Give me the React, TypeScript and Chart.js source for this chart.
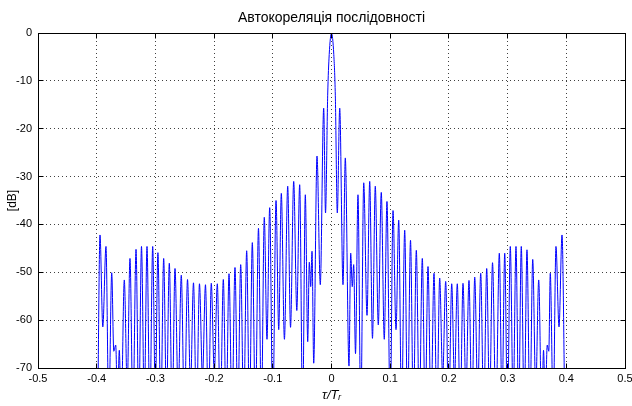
import React, { useEffect, useRef } from "react";
import { Chart, registerables } from "chart.js";

Chart.register(...registerables);

const TITLE = "Автокореляція послідовності";
const X_LABEL = "τ/Tᵣ";
const Y_LABEL = "[dB]";

const xTickValues = [-0.5, -0.4, -0.3, -0.2, -0.1, 0, 0.1, 0.2, 0.3, 0.4, 0.5];
const xTickLabels = ["-0.5", "-0.4", "-0.3", "-0.2", "-0.1", "0", "0.1", "0.2", "0.3", "0.4", "0.5"];
const yTickValues = [-70, -60, -50, -40, -30, -20, -10, 0];
const yTickLabels = ["-70", "-60", "-50", "-40", "-30", "-20", "-10", "0"];

// Delay τ/Tr of each lobe peak / null (left to right)
const lagTau = [
  -0.3983, -0.3944, -0.3896, -0.3842, -0.3794, -0.3744, -0.3709, -0.3676, -0.3646, -0.3615,
  -0.3583, -0.3530, -0.3480, -0.3433, -0.3382, -0.3330, -0.3283, -0.3237, -0.3189, -0.3143,
  -0.3095, -0.3046, -0.3002, -0.2957, -0.2908, -0.2859, -0.2811, -0.2763, -0.2714, -0.2666,
  -0.2612, -0.2559, -0.2506, -0.2453, -0.2402, -0.2351, -0.2300, -0.2249, -0.2198, -0.2147,
  -0.2097, -0.2048, -0.1997, -0.1945, -0.1894, -0.1843, -0.1794, -0.1746, -0.1695, -0.1644,
  -0.1596, -0.1547, -0.1496, -0.1445, -0.1397, -0.1349, -0.1296, -0.1244, -0.1194, -0.1145,
  -0.1099, -0.1053, -0.1000, -0.0945, -0.0899, -0.0855, -0.0802, -0.0746, -0.0698, -0.0644,
  -0.0591, -0.0542, -0.0492, -0.0446, -0.0405, -0.0378, -0.0354, -0.0332, -0.0303, -0.0247,
  -0.0191, -0.0133, -0.0102, -0.0065, -0.0039, 0,
  0.0039, 0.0065, 0.0099, 0.0140, 0.0196, 0.0235, 0.0298, 0.0327, 0.0354, 0.0378,
  0.0409, 0.0451, 0.0499, 0.0549, 0.0605, 0.0651, 0.0698, 0.0746, 0.0797, 0.0848,
  0.0899, 0.0945, 0.1000, 0.1048, 0.1099, 0.1145, 0.1194, 0.1247, 0.1296, 0.1346,
  0.1395, 0.1445, 0.1496, 0.1547, 0.1596, 0.1644, 0.1695, 0.1746, 0.1796, 0.1843,
  0.1894, 0.1945, 0.1997, 0.2048, 0.2095, 0.2143, 0.2193, 0.2240, 0.2291, 0.2342,
  0.2392, 0.2440, 0.2491, 0.2542, 0.2593, 0.2644, 0.2693, 0.2743, 0.2801, 0.2859,
  0.2905, 0.2951, 0.2998, 0.3046, 0.3095, 0.3143, 0.3189, 0.3233, 0.3283, 0.3330,
  0.3380, 0.3428, 0.3479, 0.3530, 0.3581, 0.3612, 0.3642, 0.3675, 0.3702, 0.3727,
  0.3777, 0.3824, 0.3876, 0.3927, 0.3975,
];

// Autocorrelation level [dB] at each of those delays
const corrDb = [
  -80, -42.2, -61.4, -44.6, -80, -50.1, -66.5, -65.2, -78, -66.3,
  -80, -51.6, -74, -47.1, -80, -45.2, -80, -44.6, -78, -44.6,
  -80, -44.6, -76, -45.9, -80, -47.1, -78, -48.1, -80, -49.2,
  -76, -50.6, -80, -51.5, -74, -52.2, -80, -52.4, -72, -52.6,
  -80, -52.3, -71, -52.4, -80, -51.5, -80, -50.3, -80, -49.0,
  -80, -48.4, -80, -45.5, -80, -43.8, -80, -40.8, -80, -38.5,
  -64, -36.5, -80, -35.0, -62, -33.5, -64, -32.0, -61.5, -31.0,
  -58, -31.7, -80, -33.8, -64.5, -47.9, -53, -45.6, -69, -25.7,
  -52.6, -15.7, -37.6, -13, -4.5, 0,
  -4.5, -13, -37.6, -15.7, -52.6, -26.1, -69.6, -46, -53, -48.4,
  -67, -33.8, -80, -31.3, -59, -31.0, -63.8, -32.0, -61, -33.3,
  -64, -35.2, -80, -37.1, -62, -39.1, -80, -41.2, -80, -43.3,
  -80, -45.4, -80, -47.1, -80, -48.8, -80, -50.2, -80, -51.2,
  -72, -51.9, -80, -52.4, -73, -52.4, -80, -52.3, -75, -51.7,
  -80, -51.0, -76, -50.2, -80, -49.2, -78, -48.0, -80, -46.0,
  -78, -46.0, -80, -44.6, -78, -44.6, -80, -44.6, -80, -45.3,
  -80, -47.3, -75, -51.6, -80, -66.3, -78, -65.2, -66.5, -50.2,
  -80, -44.6, -61.4, -42.2, -80,
];

const FONT = "'Liberation Sans', Arial, Helvetica, sans-serif";
const LINE = "#0000ff";
const GRID = "#404040";

const framePlugin = {
  id: "matlabFrame",
  afterDraw(chart: any) {
    const { ctx, chartArea } = chart;
    const xs = chart.scales.x;
    const ys = chart.scales.y;
    const L = Math.round(chartArea.left - 0.5) + 0.5;
    const R = Math.round(chartArea.right - 0.5) + 0.5;
    const T = Math.round(chartArea.top - 0.5) + 0.5;
    const B = Math.round(chartArea.bottom - 0.5) + 0.5;
    ctx.save();
    ctx.strokeStyle = "#000";
    ctx.lineWidth = 1;
    ctx.setLineDash([]);
    ctx.strokeRect(L, T, R - L, B - T);
    ctx.beginPath();
    for (const v of xTickValues) {
      const px = Math.round(xs.getPixelForValue(v) - 0.5) + 0.5;
      ctx.moveTo(px, B);
      ctx.lineTo(px, B - 5);
      ctx.moveTo(px, T);
      ctx.lineTo(px, T + 5);
    }
    for (const v of yTickValues) {
      const py = Math.round(ys.getPixelForValue(v) - 0.5) + 0.5;
      ctx.moveTo(L, py);
      ctx.lineTo(L + 5, py);
      ctx.moveTo(R, py);
      ctx.lineTo(R - 5, py);
    }
    ctx.stroke();
    ctx.restore();
  },
};

export default function App() {
  const ref = useRef<HTMLCanvasElement>(null);

  useEffect(() => {
    const canvas = ref.current;
    if (!canvas) return;
    const points = lagTau.map((t, i) => ({ x: t, y: corrDb[i] }));
    const chart = new Chart(canvas, {
      type: "line",
      data: {
        datasets: [
          {
            data: points,
            borderColor: LINE,
            borderWidth: 1,
            pointRadius: 0,
            fill: false,
            cubicInterpolationMode: "monotone",
            clip: 0,
            xAxisID: "x",
            yAxisID: "y",
          } as any,
        ],
      },
      options: {
        responsive: false,
        animation: false,
        devicePixelRatio: 1,
        events: [],
        layout: { padding: { left: 0, right: 7, top: 0, bottom: 0 } },
        plugins: {
          legend: { display: false },
          tooltip: { enabled: false },
          title: { display: false },
        },
        scales: {
          titleAxis: {
            type: "linear",
            position: "top",
            min: -0.5,
            max: 0.5,
            ticks: { display: false },
            grid: { display: false, drawTicks: false },
            border: { display: false },
            title: {
              display: true,
              text: TITLE,
              color: "#000",
              font: { family: FONT, size: 14, weight: "normal" },
              padding: { top: 9.6, bottom: 0 },
            },
            afterFit: (s: any) => {
              s.height = 33;
              s.paddingLeft = 0;
              s.paddingRight = 0;
            },
          },
          x: {
            type: "linear",
            position: "bottom",
            min: -0.5,
            max: 0.5,
            afterBuildTicks: (s: any) => {
              s.ticks = xTickValues.map((value) => ({ value }));
            },
            ticks: {
              autoSkip: false,
              maxRotation: 0,
              padding: 4,
              color: "#000",
              font: { family: FONT, size: 11 },
              callback: (v: any) => xTickLabels[xTickValues.indexOf(Number(v))] ?? "",
            },
            grid: { color: GRID, lineWidth: 1, drawTicks: false },
            border: { display: false, dash: [1, 3] },
            title: {
              display: true,
              text: X_LABEL,
              color: "#000",
              font: { family: FONT, size: 13, style: "italic" },
              padding: { top: 0, bottom: 3 },
            },
            afterFit: (s: any) => {
              s.height = 38;
              s.paddingLeft = 0;
              s.paddingRight = 0;
            },
          },
          y: {
            type: "linear",
            position: "left",
            min: -70,
            max: 0,
            afterBuildTicks: (s: any) => {
              s.ticks = yTickValues.map((value) => ({ value }));
            },
            ticks: {
              autoSkip: false,
              padding: 6,
              color: "#000",
              font: { family: FONT, size: 11 },
              callback: (v: any) => yTickLabels[yTickValues.indexOf(Number(v))] ?? "",
            },
            grid: { color: GRID, lineWidth: 1, drawTicks: false },
            border: { display: false, dash: [1, 3] },
            title: {
              display: true,
              text: Y_LABEL,
              color: "#000",
              font: { family: FONT, size: 12 },
              padding: { top: 5, bottom: 0 },
            },
            afterFit: (s: any) => {
              s.width = 38;
              s.paddingTop = 0;
              s.paddingBottom = 0;
            },
          },
        },
      } as any,
      plugins: [framePlugin],
    });
    return () => chart.destroy();
  }, []);

  return (
    <div style={{ position: "absolute", left: 0, top: 0, width: 632, height: 406, background: "#fff" }}>
      <canvas ref={ref} width={632} height={406} style={{ display: "block", width: 632, height: 406 }} />
    </div>
  );
}
